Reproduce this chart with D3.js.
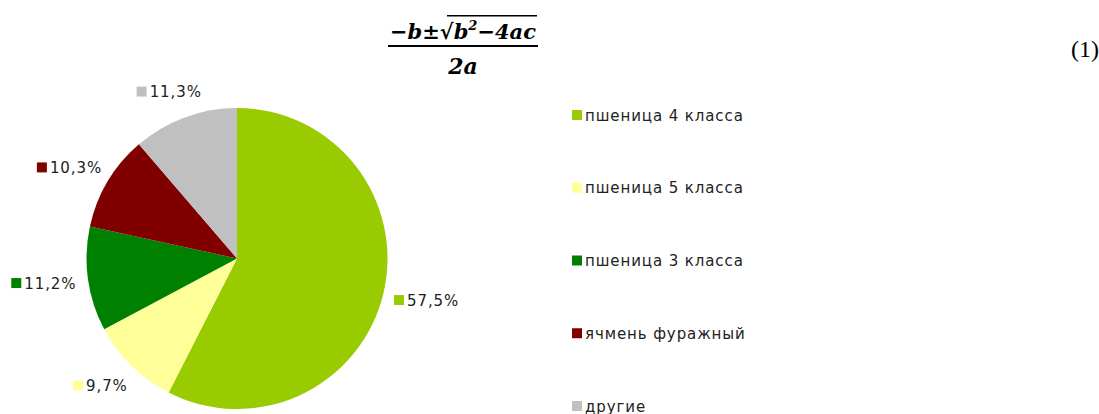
<!DOCTYPE html>
<html>
<head>
<meta charset="utf-8">
<script src="https://cdn.jsdelivr.net/npm/d3@7"></script>
<style>
  html, body { margin: 0; padding: 0; background: #fff; }
  svg { display: block; }
</style>
</head>
<body>
<svg id="chart" width="1099" height="414"></svg>
<script>
const categories = ['пшеница 4 класса', 'пшеница 5 класса', 'пшеница 3 класса', 'ячмень фуражный', 'другие'];
const shares = [57.5, 9.7, 11.2, 10.3, 11.3];
const colors = ['#99CC00', '#FFFF99', '#008000', '#800000', '#C0C0C0'];
const data = categories.map((c, i) => ({ label: c, value: shares[i], color: colors[i] }));

const svg = d3.select('#chart');
const cx = 237, cy = 258.5, r = 150.5;
const font = 'Verdana, "DejaVu Sans", sans-serif';
const fs = 15, ls = 0.9;

// formula
const fx = 463;
const f = svg.append('g').attr('font-family', '"DejaVu Serif", serif').attr('font-weight', 'bold').attr('font-style', 'italic');
f.append('text').attr('x', fx).attr('y', 39).attr('text-anchor', 'middle').attr('font-size', 21)
  .html('−b±√b<tspan font-size="13" dy="-9">2</tspan><tspan dy="9">−4ac</tspan>');
svg.append('rect').attr('x', 388).attr('y', 45).attr('width', 150).attr('height', 2).attr('fill', '#000');
// radical overline
svg.append('rect').attr('x', 447).attr('y', 15).attr('width', 90).attr('height', 1.5).attr('fill', '#000');
f.append('text').attr('x', fx).attr('y', 74).attr('text-anchor', 'middle').attr('font-size', 22).text('2a');

svg.append('text').attr('x', 1099).attr('y', 57).attr('text-anchor', 'end')
  .attr('font-family', '"Liberation Serif", "DejaVu Serif", serif').attr('font-size', 24).text('(1)');

// pie
const pie = d3.pie().sort(null).value(d => d.value);
const arcs = pie(data);
const arc = d3.arc().innerRadius(0).outerRadius(r);

const g = svg.append('g').attr('transform', `translate(${cx},${cy})`);
g.selectAll('path').data(arcs).enter().append('path')
  .attr('d', arc)
  .attr('fill', d => d.data.color);

// labels sit on an ellipse around the pie, centred on the slice mid-angle
const lrx = 195, lry = 178;
const labels = g.selectAll('.lbl').data(arcs).enter().append('g').attr('class', 'lbl');
labels.each(function(d) {
  const a = (d.startAngle + d.endAngle) / 2;
  const lx = lrx * Math.sin(a), ly = -lry * Math.cos(a);
  const txt = d.data.value.toFixed(1).replace('.', ',') + '%';
  const gg = d3.select(this);
  const t = gg.append('text').attr('x', 13).attr('y', 5.5).attr('font-family', font).attr('font-size', fs)
    .attr('letter-spacing', ls).attr('fill', '#222').text(txt);
  const w = 13 + t.node().getComputedTextLength();
  gg.append('rect').attr('x', 0).attr('y', -5).attr('width', 10).attr('height', 10).attr('fill', d.data.color);
  gg.attr('transform', `translate(${lx - w / 2},${ly})`);
});

// legend
const legendY = d3.scalePoint().domain(categories).range([115, 406]);
const lg = svg.append('g').selectAll('g').data(data).enter().append('g')
  .attr('transform', d => `translate(572,${legendY(d.label)})`);
lg.append('rect').attr('x', 0).attr('y', -5).attr('width', 10).attr('height', 10).attr('fill', d => d.color);
lg.append('text').attr('x', 13).attr('y', 5.5).attr('font-family', font).attr('font-size', fs)
  .attr('letter-spacing', ls).attr('fill', '#222').text(d => d.label);
</script>
</body>
</html>
